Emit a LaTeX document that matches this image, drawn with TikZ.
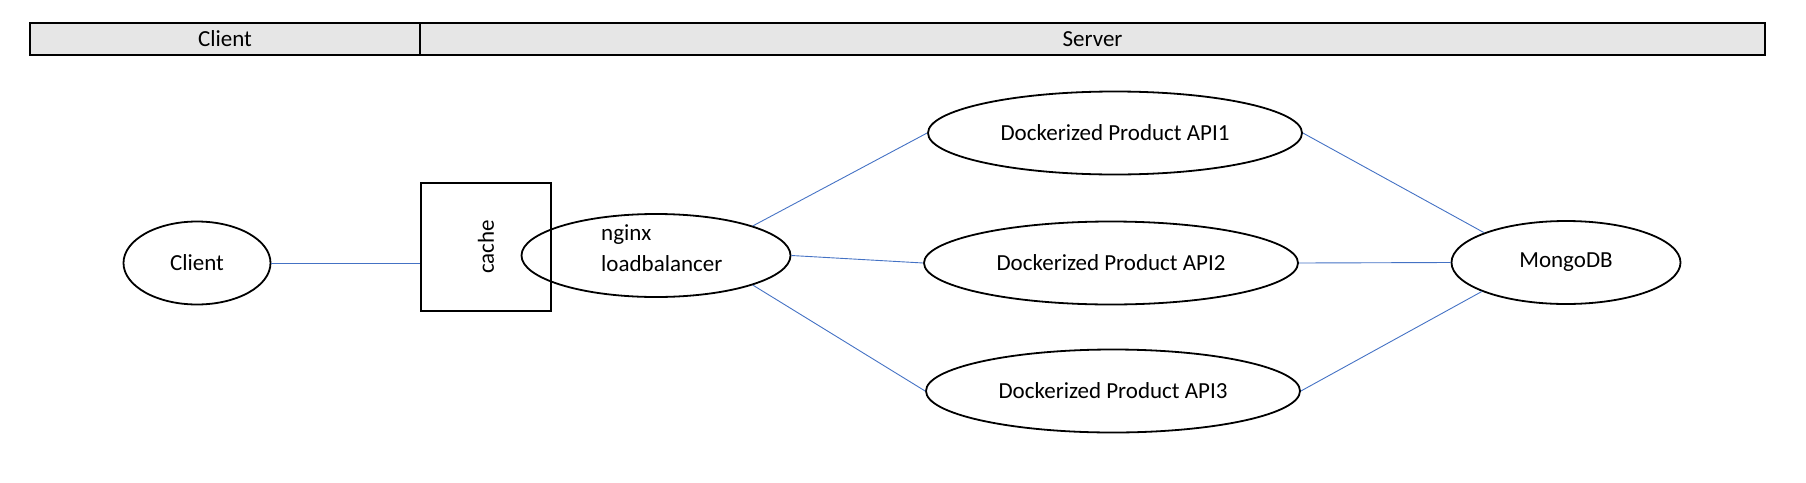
\documentclass[tikz,border=0pt]{standalone}
\usepackage{fontspec}
\setmainfont{Carlito}
\usetikzlibrary{shapes.geometric}
\definecolor{hdrgray}{HTML}{E6E6E6}
\definecolor{linkblue}{HTML}{4472C4}
\begin{document}
\begin{tikzpicture}[x=1pt,y=-1pt,
  every node/.style={font=\fontsize{23}{31}\selectfont},
  oval/.style={draw, line width=1.8pt, ellipse, inner sep=0pt, minimum height=83pt},
  hdr/.style={draw, line width=2.2pt, fill=hdrgray, minimum height=32pt, inner sep=0pt},
  boxstyle/.style={draw, line width=1.8pt, rectangle, inner sep=0pt, minimum width=130pt, minimum height=128pt},
  link/.style={draw=linkblue, line width=0.9pt}]
\useasboundingbox (0,0) rectangle (1806,482);
% header
\node[hdr, minimum width=390pt] (hdrclient) at (225,39) {Client};
\node[hdr, minimum width=1345pt] (hdrserver) at (1092.5,39) {Server};
% nodes
\node[oval, minimum width=147pt] (client) at (197,263) {Client};
\node[boxstyle] (cache) at (486,247) {\rotatebox{90}{cache}};
\node[oval, minimum width=269pt] (nginx) at (656,255.5) {};
\node[anchor=west, align=left, inner sep=0pt] (nginxtext) at (601,248.5) {nginx\\loadbalancer};
\node[oval, minimum width=374pt] (api1) at (1115,133) {Dockerized Product API1};
\node[oval, minimum width=374pt] (api2) at (1111,263) {Dockerized Product API2};
\node[oval, minimum width=374pt] (api3) at (1113,391) {Dockerized Product API3};
\node[oval, minimum width=229pt] (mongo) at (1566,262.5) {MongoDB};
% connectors
\draw[link] (client.east) -- (cache.west |- client.east);
\draw[link] (nginx.17.2) -- (api1.west);
\draw[link] (nginx.east) -- (api2.west);
\draw[link] (nginx.-17.2) -- (api3.west);
\draw[link] (api1.east) -- (mongo.160.1);
\draw[link] (api2.east) -- (mongo.west);
\draw[link] (api3.east) -- (mongo.199.9);
\end{tikzpicture}
\end{document}
